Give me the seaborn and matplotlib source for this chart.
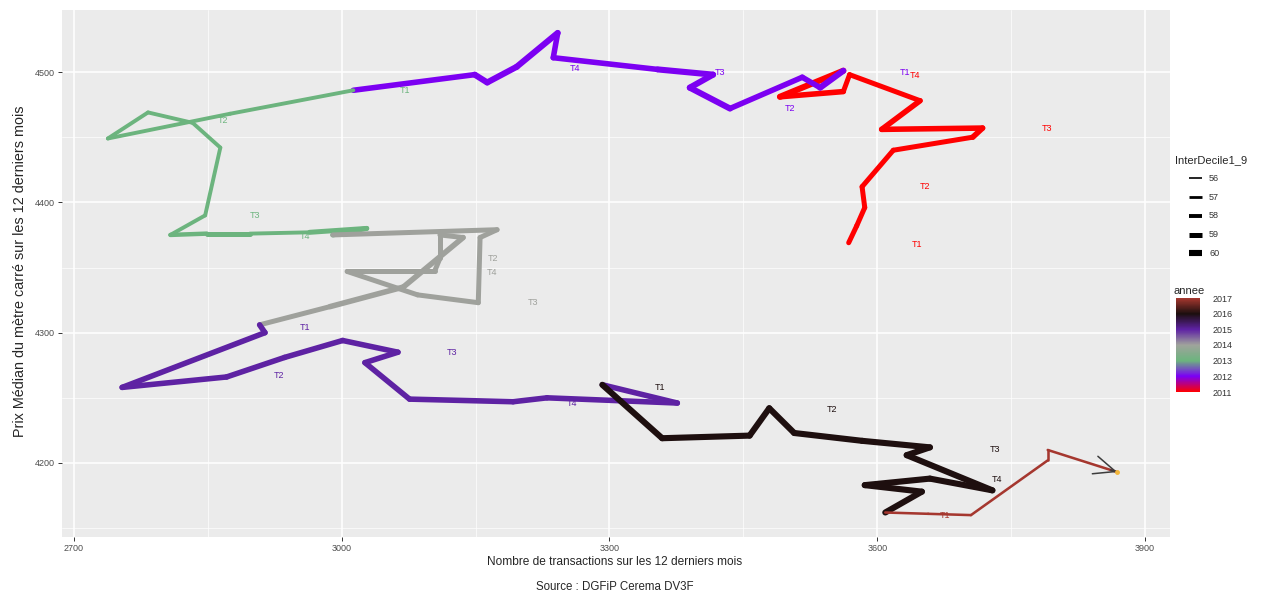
import numpy as np
import pandas as pd
import matplotlib
matplotlib.use("Agg")
import matplotlib.pyplot as plt
import seaborn as sns
from matplotlib.colors import LinearSegmentedColormap, Normalize
from matplotlib.colorbar import ColorbarBase
from matplotlib.lines import Line2D

# --- Monthly rolling 12-month indicators, Jan 2011 -> Jun 2017 ---------------
transactions_2011 = [3568, 3577, 3586, 3583, 3618, 3707, 3718, 3605, 3648, 3569, 3562, 3491]
prix_2011 = [4369, 4382, 4396, 4412, 4440, 4450, 4457, 4456, 4478, 4498, 4485, 4481]
interdecile_2011 = [59, 59, 59, 59, 59, 59.5, 59.5, 59.5, 59, 59, 59.5, 60]

transactions_2012 = [3562, 3536, 3516, 3435, 3390, 3416, 3354, 3237, 3242, 3196, 3163, 3149]
prix_2012 = [4501, 4488, 4496, 4472, 4488, 4498, 4502, 4511, 4530, 4504, 4492, 4498]
interdecile_2012 = [60, 59.5, 59.5, 60, 60, 60, 59.5, 59.5, 60, 60, 60, 59.5]

transactions_2013 = [3013, 2875, 2738, 2783, 2833, 2864, 2847, 2808, 2849, 2897, 2964, 3028]
prix_2013 = [4486, 4468, 4449, 4469, 4461, 4442, 4390, 4375, 4376, 4376, 4377, 4380]
interdecile_2013 = [58, 58, 58, 58, 58, 58, 58, 58.5, 59, 58, 59, 59]

transactions_2014 = [2990, 3174, 3155, 3153, 3085, 3006, 3104, 3110, 3110, 3136, 3069, 2987]
prix_2014 = [4375, 4379, 4373, 4323, 4329, 4347, 4347, 4357, 4375, 4373, 4335, 4320]
interdecile_2014 = [59, 59, 59, 59, 59, 59, 59, 59, 59, 59.5, 59.5, 59]

transactions_2015 = [2908, 2914, 2754, 2871, 2936, 3001, 3063, 3026, 3076, 3192, 3230, 3376]
prix_2015 = [4306, 4300, 4258, 4266, 4281, 4294, 4285, 4277, 4249, 4247, 4250, 4246]
interdecile_2015 = [59.5, 59.5, 59.5, 59.5, 59.5, 59.5, 59.5, 59.5, 59.5, 59.5, 59.5, 59.5]

transactions_2016 = [3292, 3359, 3457, 3479, 3507, 3583, 3659, 3633, 3729, 3659, 3586, 3650]
prix_2016 = [4260, 4219, 4221, 4242, 4223, 4217, 4212, 4206, 4179, 4188, 4183, 4178]
interdecile_2016 = [60, 60, 60, 60, 60, 60, 60, 60, 60, 60, 60, 60]

transactions_2017 = [3609, 3657, 3705, 3791, 3791, 3869]
prix_2017 = [4162, 4161, 4160, 4202, 4210, 4193]
interdecile_2017 = [56.8, 56.8, 56.8, 56.8, 56.8, 56.8]

# Quarter labels written next to the path
label_text = ["T1", "T2", "T3", "T4",
              "T1", "T2", "T3", "T4",
              "T1", "T2", "T3", "T4",
              "T2", "T3", "T4",
              "T1", "T2", "T3", "T4",
              "T1", "T2", "T3", "T4",
              "T1"]
label_annee = [2011] * 4 + [2012] * 4 + [2013] * 4 + [2014] * 3 + [2015] * 4 + [2016] * 4 + [2017]
label_x = [3644, 3653, 3790, 3642,
           3631, 3502, 3424, 3261,
           3071, 2867, 2903, 2959,
           3169, 3214, 3168,
           2959, 2930, 3124, 3258,
           3357, 3549, 3732, 3734,
           3676]
label_y = [4368, 4412, 4457, 4497,
           4500, 4472, 4500, 4503,
           4486, 4463, 4390, 4374,
           4357, 4323, 4346,
           4304, 4267, 4285, 4246,
           4258, 4241, 4210, 4187,
           4160]

# Colour scale for 'annee'
annee_levels = [2011, 2012, 2013, 2014, 2015, 2016, 2017]
annee_colours = ["#FF0000", "#7A00F5", "#6CB47E", "#A0A39C", "#5E22A3", "#1C0F0F", "#A5372F"]
size_levels = [56, 57, 58, 59, 60]

# ---------------------------------------------------------------------------
transactions = (transactions_2011 + transactions_2012 + transactions_2013 +
                transactions_2014 + transactions_2015 + transactions_2016 + transactions_2017)
prix = prix_2011 + prix_2012 + prix_2013 + prix_2014 + prix_2015 + prix_2016 + prix_2017
interdecile = (interdecile_2011 + interdecile_2012 + interdecile_2013 + interdecile_2014 +
               interdecile_2015 + interdecile_2016 + interdecile_2017)
mois = pd.date_range("2011-01-01", periods=len(transactions), freq="MS")

df = pd.DataFrame({"transactions": transactions, "prix": prix,
                   "InterDecile1_9": interdecile, "annee": mois.year})

# one two-row group per segment so colour and width follow each step of the path
rows = []
for i in range(len(df) - 1):
    for j in (i, i + 1):
        rows.append({"seg": i,
                     "transactions": df.transactions[j],
                     "prix": df.prix[j],
                     "annee": df.annee[i],
                     "InterDecile1_9": df.InterDecile1_9[i]})
segments = pd.DataFrame(rows)

cmap = LinearSegmentedColormap.from_list(
    "annee", [((a - 2011) / 6, c) for a, c in zip(annee_levels, annee_colours)])
norm = Normalize(2011, 2017)
size_range = (1.2, 4.4)
size_norm = (56, 60)


def width_of(v):
    return size_range[0] + (v - size_norm[0]) / (size_norm[1] - size_norm[0]) * (size_range[1] - size_range[0])


sns.set_style("darkgrid", {"axes.facecolor": "#EBEBEB", "grid.color": "white"})
plt.rcParams["font.family"] = ["Liberation Sans", "DejaVu Sans"]
plt.rcParams["lines.solid_capstyle"] = "round"
plt.rcParams["lines.solid_joinstyle"] = "round"

W, H = 1263, 594
fig = plt.figure(figsize=(W / 100, H / 100), dpi=100)
fig.patch.set_facecolor("white")
ax = fig.add_axes([62 / W, (H - 537) / H, (1170 - 62) / W, (537 - 10) / H])

sns.lineplot(data=segments, x="transactions", y="prix", units="seg", estimator=None,
             hue="annee", palette=cmap, hue_norm=(2011, 2017),
             size="InterDecile1_9", sizes=size_range, size_norm=size_norm,
             sort=False, legend=False, ax=ax)

# arrow head at the end of the path
ax.annotate("", xy=(transactions[-1], prix[-1]),
            xytext=(transactions[-2] + 0.9 * (transactions[-1] - transactions[-2]),
                    prix[-2] + 0.9 * (prix[-1] - prix[-2])),
            arrowprops=dict(arrowstyle="->,head_length=0.7,head_width=0.3",
                            color="#3c3c3c", lw=1.1, shrinkA=0, shrinkB=0,
                            mutation_scale=22))
ax.plot([transactions[-1]], [prix[-1]], "o", color="#F2B63A", ms=2.5, zorder=5)

for t, a, x, y in zip(label_text, label_annee, label_x, label_y):
    ax.text(x, y, t, color=cmap(norm(a)), fontsize=6.5, ha="center", va="center")

ax.set_xlim(2686.6, 3928)
ax.set_ylim(4143.2, 4547.6)
ax.set_xticks([2700, 3000, 3300, 3600, 3900])
ax.set_yticks([4200, 4300, 4400, 4500])
ax.set_xticks([2850, 3150, 3450, 3750], minor=True)
ax.set_yticks([4150, 4250, 4350, 4450], minor=True)
ax.grid(which="major", color="white", lw=1.1)
ax.grid(which="minor", color="white", lw=0.5)
ax.tick_params(which="major", length=3, width=0.7, color="#333333",
               labelsize=6.5, labelcolor="#4D4D4D", pad=2, bottom=True, left=True)
ax.tick_params(which="minor", length=0)
ax.set_xlabel("")
ax.set_ylabel("")
for s in ax.spines.values():
    s.set_visible(False)

fig.text(615 / W, 1 - 562 / H, "Nombre de transactions sur les 12 derniers mois",
         ha="center", va="center", fontsize=8.6)
fig.text(615 / W, 1 - 587 / H, "Source : DGFiP Cerema DV3F",
         ha="center", va="center", fontsize=8.3)
fig.text(20 / W, 1 - 271 / H, "Prix Médian du mètre carré sur les 12 derniers mois",
         ha="center", va="center", rotation=90, fontsize=10.4)

# size legend for InterDecile1_9
fig.text(1175 / W, 1 - 160 / H, "InterDecile1_9", ha="left", va="center", fontsize=8)
key_y = [178, 197, 216, 235, 253]
for v, ky in zip(size_levels, key_y):
    fig.add_artist(Line2D([1189 / W, 1202 / W], [1 - ky / H, 1 - ky / H],
                          transform=fig.transFigure, color="black",
                          lw=width_of(v), solid_capstyle="butt"))
    fig.text(1209 / W, 1 - ky / H, str(v), ha="left", va="center",
             fontsize=6.5, color="#333333")

# colour bar for annee
fig.text(1174 / W, 1 - 291 / H, "annee", ha="left", va="center", fontsize=8)
cax = fig.add_axes([1176 / W, (H - 392) / H, 24 / W, 94 / H])
cb = ColorbarBase(cax, cmap=cmap, norm=norm, orientation="vertical")
cb.set_ticks(annee_levels)
cb.outline.set_visible(False)
cax.tick_params(direction="in", color="white", length=4, width=0.8,
                labelsize=6.5, labelcolor="#333333", pad=9)

fig.savefig("out.png", dpi=100)
